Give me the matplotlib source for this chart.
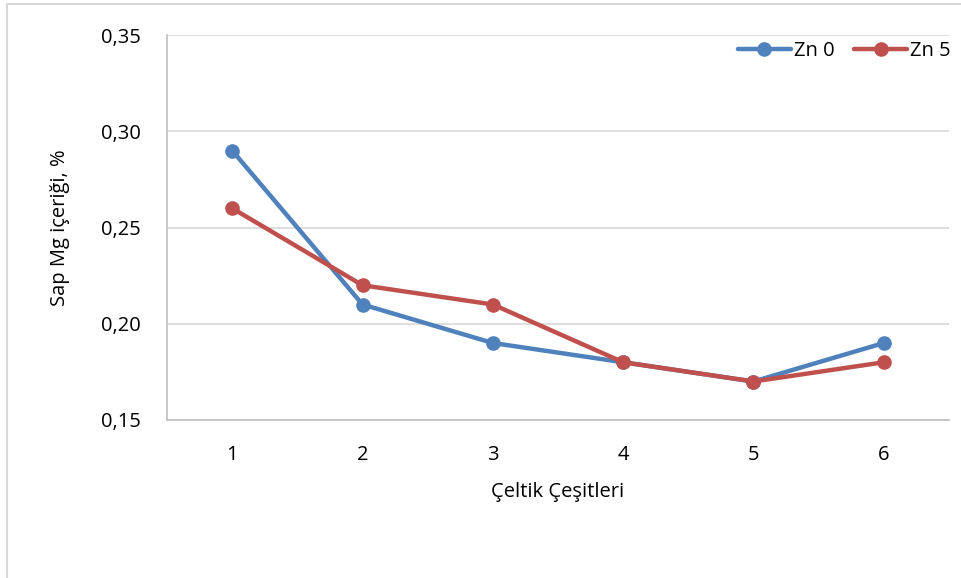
import matplotlib
matplotlib.use("Agg")
import matplotlib.pyplot as plt
from matplotlib.patches import Rectangle
from matplotlib.ticker import FuncFormatter

categories = ["1", "2", "3", "4", "5", "6"]
zn0 = [0.29, 0.21, 0.19, 0.18, 0.17, 0.19]
zn5 = [0.26, 0.22, 0.21, 0.18, 0.17, 0.18]
yticks = [0.15, 0.20, 0.25, 0.30, 0.35]

plt.rcParams['font.family'] = ['Open Sans', 'DejaVu Sans']
FS = 14.5

W, H = 961, 578
fig = plt.figure(figsize=(W/100, H/100), dpi=100)
ax = fig.add_axes([167/W, 1-420/H, (949-167)/W, (420-35)/H])

x = list(range(1, len(categories)+1))
ax.plot(x, zn0, color="#4F81BD", lw=3.2, marker="o", ms=9.5, label="Zn 0", solid_capstyle="round", zorder=3)
ax.plot(x, zn5, color="#C0504D", lw=3.2, marker="o", ms=9.5, label="Zn 5", solid_capstyle="round", zorder=4)

ax.set_xlim(0.5, len(categories)+0.5)
ax.set_ylim(0.15, 0.35)
ax.set_xticks(x)
ax.set_xticklabels(categories)
ax.set_yticks(yticks)
ax.yaxis.set_major_formatter(FuncFormatter(lambda v, p: f"{v:.2f}".replace(".", ",")))
ax.tick_params(axis="both", length=0, labelsize=FS, colors="black")
ax.tick_params(axis="y", pad=19)
ax.tick_params(axis="x", pad=18)
ax.grid(axis="y", color="#D9D9D9", lw=1.2)
ax.set_axisbelow(True)
for s in ["top", "right"]:
    ax.spines[s].set_visible(False)
for s in ["left", "bottom"]:
    ax.spines[s].set_color("#BFBFBF")
    ax.spines[s].set_linewidth(1.2)

ax.set_xlabel("Çeltik Çeşitleri", fontsize=FS, labelpad=12)
ax.set_ylabel("Sap Mg içeriği, %", fontsize=FS, labelpad=22)

leg = ax.legend(loc="upper right", bbox_to_anchor=(1.012, 1.005), ncol=2, frameon=False,
                fontsize=FS, handlelength=2.6, columnspacing=1.0, handletextpad=0.15,
                borderaxespad=0)

fig.patches.append(Rectangle((7/W, -0.1), 1.0, 1-4/H+0.1, transform=fig.transFigure,
                             fill=False, edgecolor="#D9D9D9", lw=1.5))

fig.savefig("out.png", dpi=100)
